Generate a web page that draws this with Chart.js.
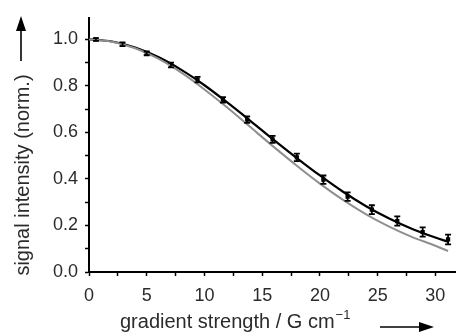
<!DOCTYPE html>
<html>
<head>
<meta charset="utf-8">
<script src="https://cdn.jsdelivr.net/npm/chart.js@4.4.1/dist/chart.umd.min.js"></script>
<style>
  html, body { margin: 0; padding: 0; background: #fff; }
  #wrap { width: 459px; height: 335px; position: relative; }
</style>
</head>
<body>
<div id="wrap"><canvas id="c" width="459" height="335"></canvas></div>
<script>
// Measured data points (gradient strength / G cm^-1, normalised signal, error)
const gradX   = [0.6, 2.9, 5.0, 7.1, 9.4, 11.6, 13.7, 15.9, 18.0, 20.3, 22.4, 24.5, 26.7, 28.9, 31.1];
const signal  = [1.0, 0.979, 0.94, 0.89, 0.827, 0.74, 0.655, 0.57, 0.493, 0.397, 0.324, 0.268, 0.219, 0.172, 0.14];
const errors  = [0.006, 0.008, 0.008, 0.010, 0.012, 0.012, 0.014, 0.015, 0.016, 0.018, 0.018, 0.019, 0.020, 0.020, 0.021];

// Black fit curve
const fitX     = [0, 2, 4, 6, 8, 10, 12, 14, 16, 18, 20, 22, 24, 26, 28, 30, 31.1];
const fitBlack = [1.0, 0.991, 0.965, 0.924, 0.869, 0.803, 0.728, 0.649, 0.568, 0.490, 0.415, 0.345, 0.283, 0.230, 0.185, 0.148, 0.13];
// Grey curve
const fitGrey  = [1.0, 0.990, 0.962, 0.917, 0.857, 0.785, 0.706, 0.622, 0.538, 0.457, 0.380, 0.310, 0.248, 0.195, 0.150, 0.113, 0.090];

// Axis ranges and ticks
const xMin = 0, xMax = 31.7;
const yMin = 0, yMax = 1.093;
const xTicks = [0, 2.5, 5, 7.5, 10, 12.5, 15, 17.5, 20, 22.5, 25, 27.5, 30];
const xTickLabels = ['0', '', '5', '', '10', '', '15', '', '20', '', '25', '', '30'];
const yTicks = [0, 0.1, 0.2, 0.3, 0.4, 0.5, 0.6, 0.7, 0.8, 0.9, 1.0];
const yTickLabels = ['0.0', '', '0.2', '', '0.4', '', '0.6', '', '0.8', '', '1.0'];
const xTitle = "gradient strength / G cm";
const xTitleSup = "\u22121";
const yTitle = "signal intensity (norm.)";

const FONT = "'Liberation Sans', Arial, Helvetica, sans-serif";
const TXT = '#2b2b2b';

const toXY = (xs, ys) => xs.map((x, i) => ({ x: x, y: ys[i] }));

const decorPlugin = {
  id: 'decor',
  afterDatasetsDraw(chart) {
    const ctx = chart.ctx, xs = chart.scales.x, ys = chart.scales.y;
    ctx.save();
    ctx.strokeStyle = '#000';
    ctx.fillStyle = '#000';
    ctx.lineWidth = 1.8;
    gradX.forEach((gx, i) => {
      const px = xs.getPixelForValue(gx);
      const y1 = ys.getPixelForValue(signal[i] + errors[i]);
      const y2 = ys.getPixelForValue(signal[i] - errors[i]);
      ctx.beginPath();
      ctx.moveTo(px, y1); ctx.lineTo(px, y2);
      ctx.moveTo(px - 3, y1); ctx.lineTo(px + 3, y1);
      ctx.moveTo(px - 3, y2); ctx.lineTo(px + 3, y2);
      ctx.stroke();
    });
    ctx.restore();
  },
  afterDraw(chart) {
    const ctx = chart.ctx;
    ctx.save();
    ctx.fillStyle = TXT;
    ctx.strokeStyle = '#000';
    // X title
    ctx.font = "20px " + FONT;
    ctx.textAlign = 'left';
    ctx.textBaseline = 'alphabetic';
    const tx = 120, ty = 328;
    ctx.fillText(xTitle, tx, ty);
    const w = ctx.measureText(xTitle).width;
    ctx.font = "13px " + FONT;
    ctx.fillText(xTitleSup, tx + w + 1, ty - 9);
    // X arrow
    ctx.fillStyle = '#000';
    ctx.lineWidth = 1.6;
    ctx.beginPath();
    ctx.moveTo(380, 327); ctx.lineTo(422, 327); ctx.stroke();
    ctx.beginPath();
    ctx.moveTo(434, 327); ctx.lineTo(419, 322); ctx.lineTo(419, 332); ctx.closePath(); ctx.fill();
    // Y title
    ctx.fillStyle = TXT;
    ctx.save();
    ctx.translate(23, 175);
    ctx.rotate(-Math.PI / 2);
    ctx.font = "20px " + FONT;
    ctx.textAlign = 'center';
    ctx.textBaseline = 'middle';
    ctx.fillText(yTitle, 0, 0);
    ctx.restore();
    // Y arrow
    ctx.fillStyle = '#000';
    ctx.beginPath();
    ctx.moveTo(21, 61); ctx.lineTo(21, 28); ctx.stroke();
    ctx.beginPath();
    ctx.moveTo(21, 16); ctx.lineTo(16, 31); ctx.lineTo(26, 31); ctx.closePath(); ctx.fill();
    ctx.restore();
  }
};

new Chart(document.getElementById('c'), {
  type: 'line',
  data: {
    datasets: [
      {
        data: toXY(fitX, fitGrey),
        borderColor: '#8f8f8f',
        borderWidth: 2,
        pointRadius: 0,
        cubicInterpolationMode: 'monotone',
        fill: false
      },
      {
        data: toXY(fitX, fitBlack),
        borderColor: '#000',
        borderWidth: 2.2,
        pointRadius: 0,
        cubicInterpolationMode: 'monotone',
        fill: false
      },
      {
        data: toXY(gradX, signal),
        showLine: false,
        pointStyle: 'rect',
        pointRadius: 3,
        pointBackgroundColor: '#000',
        pointBorderColor: '#000',
        pointBorderWidth: 0
      }
    ]
  },
  options: {
    responsive: false,
    animation: false,
    events: [],
    layout: { padding: { top: 13, right: 0, left: 0, bottom: 0 } },
    plugins: { legend: { display: false }, tooltip: { enabled: false }, title: { display: false } },
    scales: {
      x: {
        type: 'linear',
        min: xMin, max: xMax,
        afterFit: s => { s.height = 63; },
        afterBuildTicks: s => { s.ticks = xTicks.map(v => ({ value: v })); },
        ticks: {
          autoSkip: false,
          maxRotation: 0,
          padding: 9,
          color: TXT,
          font: { family: FONT, size: 18 },
          callback: (v, i) => xTickLabels[i]
        },
        grid: { display: true, drawOnChartArea: false, drawTicks: true, tickLength: 4, tickColor: '#000', tickWidth: 1.5 },
        border: { display: true, color: '#000', width: 2 }
      },
      y: {
        type: 'linear',
        min: yMin, max: yMax,
        afterFit: s => { s.width = 89; },
        afterBuildTicks: s => { s.ticks = yTicks.map(v => ({ value: v })); },
        ticks: {
          autoSkip: false,
          padding: 7,
          color: TXT,
          font: { family: FONT, size: 18 },
          callback: (v, i) => yTickLabels[i]
        },
        grid: { display: true, drawOnChartArea: false, drawTicks: true, tickLength: 4, tickColor: '#000', tickWidth: 1.5 },
        border: { display: true, color: '#000', width: 2 }
      }
    }
  },
  plugins: [decorPlugin]
});
</script>
</body>
</html>
